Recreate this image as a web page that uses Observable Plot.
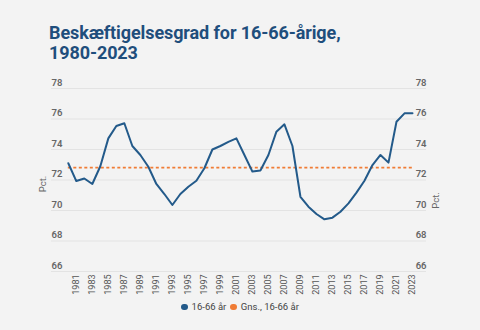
<!DOCTYPE html>
<html>
<head>
<meta charset="utf-8">
<script src="https://cdn.jsdelivr.net/npm/d3@7"></script>
<script src="https://cdn.jsdelivr.net/npm/@observablehq/plot@0.6"></script>
<style>
  html, body { margin: 0; padding: 0; background: #f3f3f3; }
  #wrap { position: relative; width: 480px; height: 330px; background: #f3f3f3; overflow: hidden; font-family: Roboto, "Noto Sans", sans-serif; }
  #title { position: absolute; left: 49px; top: 23px; font-size: 18px; font-weight: 700; color: #1f4e7c; line-height: 20px; letter-spacing: -0.1px; }
  #chart { position: absolute; left: 0; top: 0; }
  #legend { position: absolute; left: 0; width: 480px; top: 301px; text-align: center; font-size: 9.5px; color: #444; }
  #legend span.item { display: inline-flex; align-items: center; margin: 0 2px; }
  #legend span.dot { display: inline-block; width: 6.5px; height: 6.5px; border-radius: 50%; margin-right: 4px; }
</style>
</head>
<body>
<div id="wrap">
  <div id="title">Beskæftigelsesgrad for 16-66-årige,<br>1980-2023</div>
  <div id="chart"></div>
  <div id="legend"></div>
</div>
<script>
const years = d3.range(1980, 2024);
const rate = [
  73.1, 71.93, 72.1, 71.74, 72.9, 74.73, 75.54, 75.72, 74.23, 73.64,
  72.87, 71.74, 71.08, 70.36, 71.08, 71.56, 71.95, 72.77, 74.0, 74.23,
  74.5, 74.73, 73.64, 72.55, 72.62, 73.64, 75.17, 75.65, 74.23, 70.9,
  70.25, 69.77, 69.42, 69.53, 69.92, 70.47, 71.17, 71.95, 72.98, 73.64,
  73.14, 75.82, 76.37, 76.37
];
const average = 72.81;
const yTicks = [66, 68, 70, 72, 74, 76, 78];
const xTicks = d3.range(1981, 2024, 2);
const seriesName = "16-66 år";
const avgName = "Gns., 16-66 år";
const blue = "#235a8a";
const orange = "#f07c35";

const data = years.map((y, i) => ({year: y, value: rate[i]}));

const chart = Plot.plot({
  width: 480,
  height: 300,
  marginLeft: 51,
  marginRight: 54,
  marginTop: 88,
  marginBottom: 29,
  style: {background: "transparent", fontFamily: "Roboto, 'Noto Sans', sans-serif"},
  x: {domain: [1977.9, 2024.75], axis: null},
  y: {domain: [66, 78], axis: null},
  marks: [
    Plot.ruleY(yTicks, {stroke: "#e3e3e3", strokeWidth: 1}),
    Plot.text(yTicks, {y: d => d, frameAnchor: "left", textAnchor: "start", dy: -6, text: d => String(d), fill: "#666", fontSize: 9.5, fontWeight: 600}),
    Plot.text(yTicks, {y: d => d, frameAnchor: "right", textAnchor: "end", dy: -6, text: d => String(d), fill: "#666", fontSize: 9.5, fontWeight: 600}),
    Plot.axisX({ticks: xTicks, tickFormat: d => String(d), tickRotate: -90, tickSize: 0, tickPadding: 3, fontSize: 9, fill: "#555", label: null}),
    Plot.ruleY([average], {x1: 1980, x2: 2023, stroke: orange, strokeWidth: 1.6, strokeDasharray: "3,2.5"}),
    Plot.line(data, {x: "year", y: "value", stroke: blue, strokeWidth: 2, strokeLinejoin: "round"}),
    Plot.text(["Pct."], {frameAnchor: "left", y: 71.2, dx: -9, rotate: -90, text: d => d, fill: "#666", fontSize: 9.5}),
    Plot.text(["Pct."], {frameAnchor: "right", y: 71.2, dx: 9, rotate: -90, text: d => d, fill: "#666", fontSize: 9.5})
  ]
});
document.getElementById("chart").appendChild(chart);

document.getElementById("legend").innerHTML =
  `<span class="item"><span class="dot" style="background:${blue}"></span>${seriesName}</span>` +
  `<span class="item"><span class="dot" style="background:${orange}"></span>${avgName}</span>`;
</script>
</body>
</html>
